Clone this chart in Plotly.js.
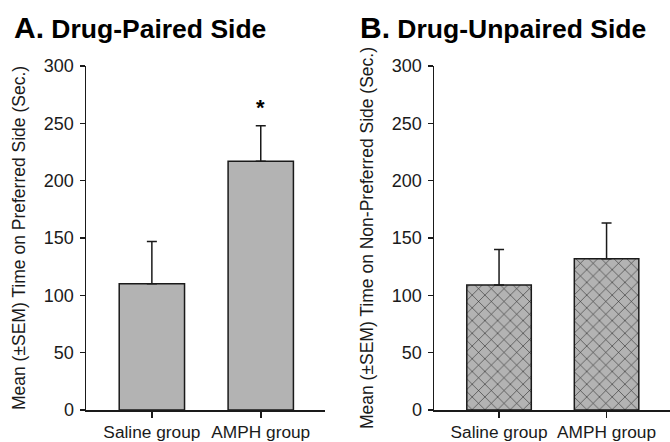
<!DOCTYPE html>
<html>
<head>
<meta charset="utf-8">
<script src="https://cdn.plot.ly/plotly-3.0.1.min.js"></script>
<style>
html,body{margin:0;padding:0;background:#fff;}
#chart{width:670px;height:442px;}
</style>
</head>
<body>
<div id="chart"></div>
<script>
const categories = ['Saline group', 'AMPH group'];
const pairedMeans = [110, 217];
const pairedSEM = [37, 31];
const unpairedMeans = [109, 132];
const unpairedSEM = [31, 31];
const yTicks = [0, 50, 100, 150, 200, 250, 300];
const sigMarks = ['', '*'];
const sigY = [0, 264];

const W = 670, H = 442;
const font = 'Liberation Sans, Arial, Helvetica, sans-serif';
const ink = '#1a1a1a';
const barGray = '#b3b3b3';

const traces = [
  {
    type: 'bar', x: categories, y: pairedMeans, xaxis: 'x', yaxis: 'y',
    width: 0.6,
    marker: {color: barGray, line: {color: ink, width: 1.5}},
    error_y: {type: 'data', array: pairedSEM, arrayminus: [0, 0], symmetric: false,
              color: ink, thickness: 1.5, width: 5},
    hoverinfo: 'skip', showlegend: false
  },
  {
    type: 'bar', x: categories, y: unpairedMeans, xaxis: 'x2', yaxis: 'y2',
    width: 0.6,
    marker: {color: barGray, line: {color: ink, width: 1.5},
             pattern: {shape: 'x', fgcolor: '#222', bgcolor: barGray, size: 9, solidity: 0.12}},
    error_y: {type: 'data', array: unpairedSEM, arrayminus: [0, 0], symmetric: false,
              color: ink, thickness: 1.5, width: 5},
    hoverinfo: 'skip', showlegend: false
  }
];

function xAxis(d0, d1, anchor) {
  return {
    domain: [d0 / W, d1 / W], anchor: anchor,
    type: 'category', range: [-0.605, 1.59],
    showline: true, linecolor: ink, linewidth: 1.5,
    ticks: 'outside', ticklen: 6, tickwidth: 1.5, tickcolor: ink,
    tickfont: {family: font, size: 17.3, color: ink},
    showgrid: false, zeroline: false, fixedrange: true
  };
}
function yAxis(anchor, titleText) {
  return {
    domain: [(H - 410) / H, (H - 66) / H], anchor: anchor,
    range: [0, 300], tickvals: yTicks, ticktext: yTicks.map(String),
    showline: true, linecolor: ink, linewidth: 1.5,
    ticks: 'outside', ticklen: 5, tickwidth: 1.5, tickcolor: ink,
    tickfont: {family: font, size: 18, color: ink},
    ticklabelstandoff: 2,
    showgrid: false, zeroline: false, fixedrange: true,
    title: {text: titleText, font: {family: font, size: 17.5, color: ink}, standoff: 13}
  };
}

const layout = {
  width: W, height: H,
  margin: {l: 0, r: 0, t: 0, b: 0},
  paper_bgcolor: '#fff', plot_bgcolor: '#fff',
  bargap: 0.4,
  xaxis: xAxis(86, 325, 'y'),
  yaxis: yAxis('x', 'Mean (±SEM) Time on Preferred Side (Sec.)'),
  xaxis2: xAxis(434, 670, 'y2'),
  yaxis2: yAxis('x2', 'Mean (±SEM) Time on Non-Preferred Side (Sec.)'),
  annotations: [
    {xref: 'paper', yref: 'paper', x: 12 / W, y: 1 - 27 / H, xanchor: 'left', yanchor: 'middle',
     showarrow: false,
     text: '<b><span style="font-size:30px">A.</span> Drug-Paired Side</b>',
     font: {family: font, size: 26.5, color: '#000'}},
    {xref: 'paper', yref: 'paper', x: 358 / W, y: 1 - 27 / H, xanchor: 'left', yanchor: 'middle',
     showarrow: false,
     text: '<b><span style="font-size:30px">B.</span> Drug-Unpaired Side</b>',
     font: {family: font, size: 26.5, color: '#000'}}
  ].concat(categories.map((c, i) => ({
    xref: 'x', yref: 'y', x: c, y: sigY[i], text: '<b>' + sigMarks[i] + '</b>', showarrow: false,
    yanchor: 'middle', font: {family: font, size: 22, color: '#000'},
    keep: sigMarks[i] !== ''
  })).filter(a => a.keep).map(a => { delete a.keep; return a; }))
};

Plotly.newPlot('chart', traces, layout, {displayModeBar: false, staticPlot: true});
</script>
</body>
</html>
